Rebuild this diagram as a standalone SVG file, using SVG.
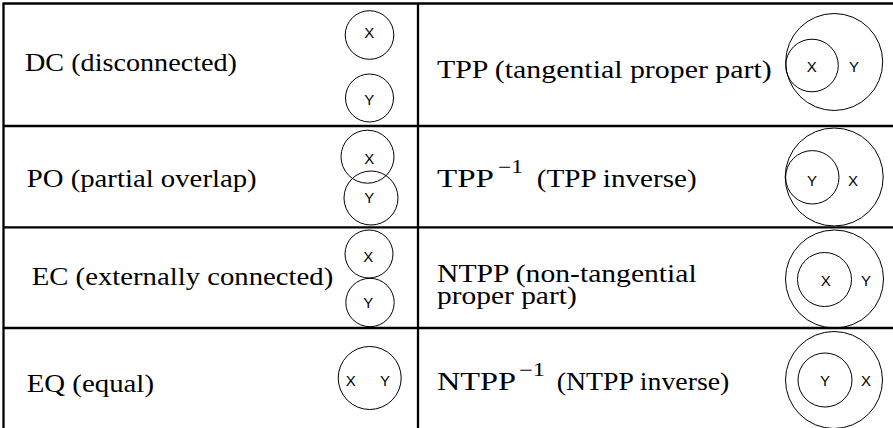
<svg xmlns="http://www.w3.org/2000/svg" width="893" height="428" viewBox="0 0 893 428">
<style>
.grid{stroke:#000;stroke-width:2.3;fill:none}
.c{fill:none;stroke:#000;stroke-width:1}
.t{font-family:"Liberation Serif","Times New Roman",serif;font-size:26px;fill:#000}
.s{font-family:"Liberation Serif","Times New Roman",serif;font-size:18px;fill:#000}
.l{font-family:"Liberation Sans",Arial,sans-serif;font-size:15px;fill:#000;text-anchor:middle}
</style>
<rect width="893" height="428" fill="#fff"/>
<g id="grid">
<line class="grid" x1="2.5" y1="3.5" x2="893" y2="3.5"/>
<line class="grid" x1="3.5" y1="3.5" x2="3.5" y2="428"/>
<line class="grid" x1="418" y1="3.5" x2="418" y2="428"/>
<line class="grid" x1="3.5" y1="126" x2="893" y2="126"/>
<line class="grid" x1="3.5" y1="227.3" x2="893" y2="227.3"/>
<line class="grid" x1="3.5" y1="328" x2="893" y2="328"/>
</g>
<g id="dc">
<text class="t" x="25" y="71" textLength="212" lengthAdjust="spacingAndGlyphs">DC (disconnected)</text>
<circle class="c" cx="369.5" cy="35" r="24.3"/>
<circle class="c" cx="369.5" cy="98" r="24"/>
<text class="l" x="369.3" y="37.7">X</text>
<text class="l" x="369.3" y="105">Y</text>
</g>
<g id="po">
<text class="t" x="26.7" y="187" textLength="230" lengthAdjust="spacingAndGlyphs">PO (partial overlap)</text>
<circle class="c" cx="367.5" cy="156.7" r="26.5"/>
<circle class="c" cx="371" cy="198" r="27"/>
<text class="l" x="369.3" y="164">X</text>
<text class="l" x="369.3" y="203.3">Y</text>
</g>
<g id="ec">
<text class="t" x="31.7" y="285" textLength="301.6" lengthAdjust="spacingAndGlyphs">EC (externally connected)</text>
<circle class="c" cx="369" cy="254" r="24"/>
<circle class="c" cx="370" cy="302.5" r="24.2"/>
<text class="l" x="368.3" y="262.3">X</text>
<text class="l" x="368.3" y="308.3">Y</text>
</g>
<g id="eq">
<text class="t" x="26.7" y="392" textLength="127.3" lengthAdjust="spacingAndGlyphs">EQ (equal)</text>
<circle class="c" cx="369.7" cy="378" r="31.5"/>
<text class="l" x="350.7" y="386">X</text>
<text class="l" x="385" y="386">Y</text>
</g>
<g id="tpp">
<text class="t" x="437" y="78" textLength="334.7" lengthAdjust="spacingAndGlyphs">TPP (tangential proper part)</text>
<circle class="c" cx="834.2" cy="62" r="48.5"/>
<circle class="c" cx="812" cy="65.5" r="26.3"/>
<text class="l" x="811.7" y="71.7">X</text>
<text class="l" x="854" y="71.7">Y</text>
</g>
<g id="tppi">
<text class="t" x="437" y="186.7" textLength="57" lengthAdjust="spacingAndGlyphs">TPP</text>
<text class="s" x="498" y="173" textLength="25" lengthAdjust="spacingAndGlyphs">−1</text>
<text class="t" x="536.7" y="186.7" textLength="160" lengthAdjust="spacingAndGlyphs">(TPP inverse)</text>
<circle class="c" cx="834.2" cy="177" r="49"/>
<circle class="c" cx="812.3" cy="177.3" r="26.7"/>
<text class="l" x="812" y="186">Y</text>
<text class="l" x="853" y="186">X</text>
</g>
<g id="ntpp">
<text class="t" x="437" y="281.7" textLength="259.7" lengthAdjust="spacingAndGlyphs">NTPP (non-tangential</text>
<text class="t" x="437" y="304.3" textLength="139.7" lengthAdjust="spacingAndGlyphs">proper part)</text>
<circle class="c" cx="834.5" cy="279" r="49"/>
<circle class="c" cx="824.5" cy="279.5" r="27"/>
<text class="l" x="825.7" y="285.7">X</text>
<text class="l" x="866" y="285.7">Y</text>
</g>
<g id="ntppi">
<text class="t" x="437" y="390" textLength="79" lengthAdjust="spacingAndGlyphs">NTPP</text>
<text class="s" x="519" y="376" textLength="26" lengthAdjust="spacingAndGlyphs">−1</text>
<text class="t" x="556.7" y="390" textLength="172.6" lengthAdjust="spacingAndGlyphs">(NTPP inverse)</text>
<circle class="c" cx="834" cy="380" r="48.5"/>
<circle class="c" cx="825" cy="380" r="27"/>
<text class="l" x="825" y="385.7">Y</text>
<text class="l" x="866" y="385.7">X</text>
</g>
</svg>
